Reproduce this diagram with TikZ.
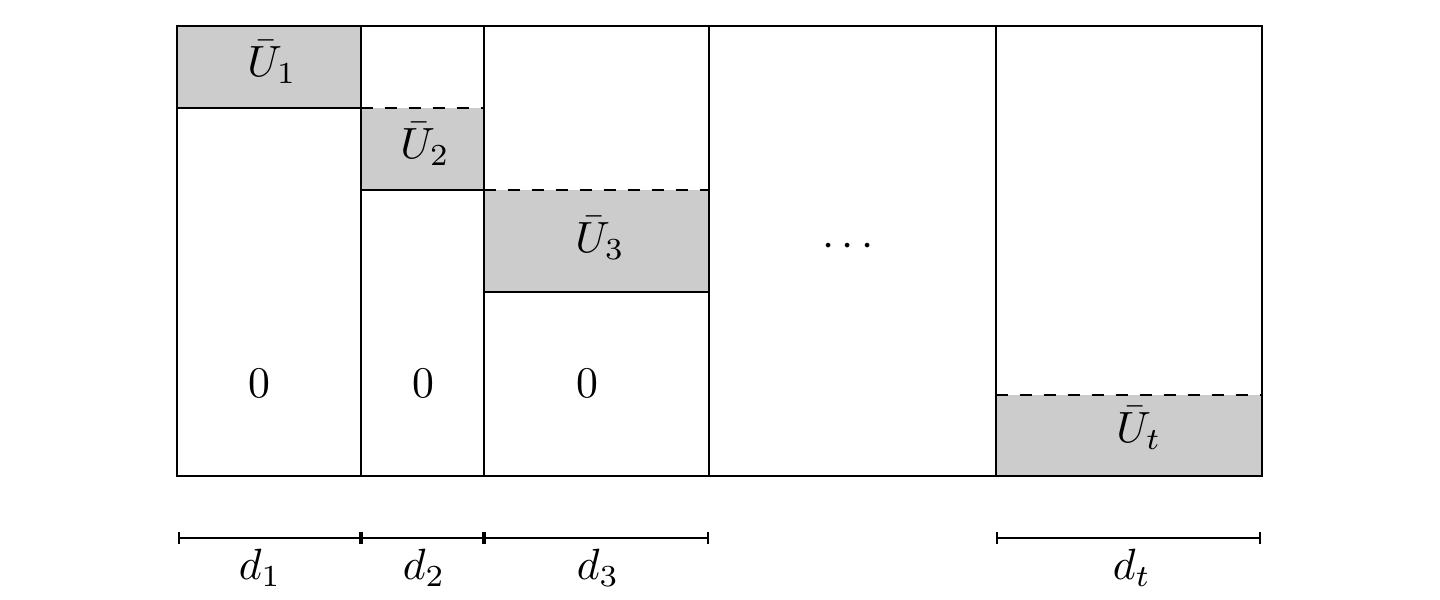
\documentclass[tikz,border=0pt]{standalone}
\usetikzlibrary{arrows.meta}
\begin{document}
\begin{tikzpicture}[x=0.4pt,y=-0.4pt,
  ln/.style={line width=0.8pt},
  shade/.style={fill=black!20},
  dsh/.style={line width=0.8pt,dash pattern=on 4.8pt off 4.8pt},
  dim/.style={line width=0.8pt,{Bar[width=5pt,line width=0.8pt]}-{Bar[width=5pt,line width=0.8pt]}},
  lbl/.style={inner sep=0pt,scale=1.75,transform shape}]
\useasboundingbox (0,0) rectangle (1440,600);
% shaded blocks
\fill[shade] (177,26) rectangle (361,108);
\fill[shade] (361,108) rectangle (484,190);
\fill[shade] (484,190) rectangle (709,292);
\fill[shade] (996,395) rectangle (1262,476);
% dashed tops
\draw[dsh] (361,108) -- (484,108);
\draw[dsh] (484,190) -- (709,190);
\draw[dsh] (996,395) -- (1262,395);
% solid bottoms
\draw[ln] (177,108) -- (361,108);
\draw[ln] (361,190) -- (484,190);
\draw[ln] (484,292) -- (709,292);
% frame and columns
\draw[ln] (177,26) rectangle (1262,476);
\foreach \x in {361,484,709,996} \draw[ln] (\x,26) -- (\x,476);
% labels
\node[lbl] (u1) at (272,62) {$\bar U_1$};
\node[lbl] (u2) at (425,144) {$\bar U_2$};
\node[lbl] (u3) at (600,238) {$\bar U_3$};
\node[lbl] (ut) at (1139,428) {$\bar U_t$};
\node[lbl] (z1) at (259,383) {$0$};
\node[lbl] (z2) at (423,383) {$0$};
\node[lbl] (z3) at (587,383) {$0$};
\node[lbl] (dots) at (848,247) {$\cdots$};
% dimension lines
\coordinate (a0) at (178,538);
\coordinate (a1) at (361,538);
\coordinate (a2) at (484,538);
\coordinate (a3) at (709,538);
\coordinate (b0) at (996,538);
\coordinate (b1) at (1261,538);
\draw[dim] (a0) -- (a1);
\draw[dim] (a1) -- (a2);
\draw[dim] (a2) -- (a3);
\draw[dim] (b0) -- (b1);
\node[lbl] (d1) at (260,568) {$d_1$};
\node[lbl] (d2) at (424,568) {$d_2$};
\node[lbl] (d3) at (598,568) {$d_3$};
\node[lbl] (dt) at (1132,568) {$d_t$};
\end{tikzpicture}
\end{document}
